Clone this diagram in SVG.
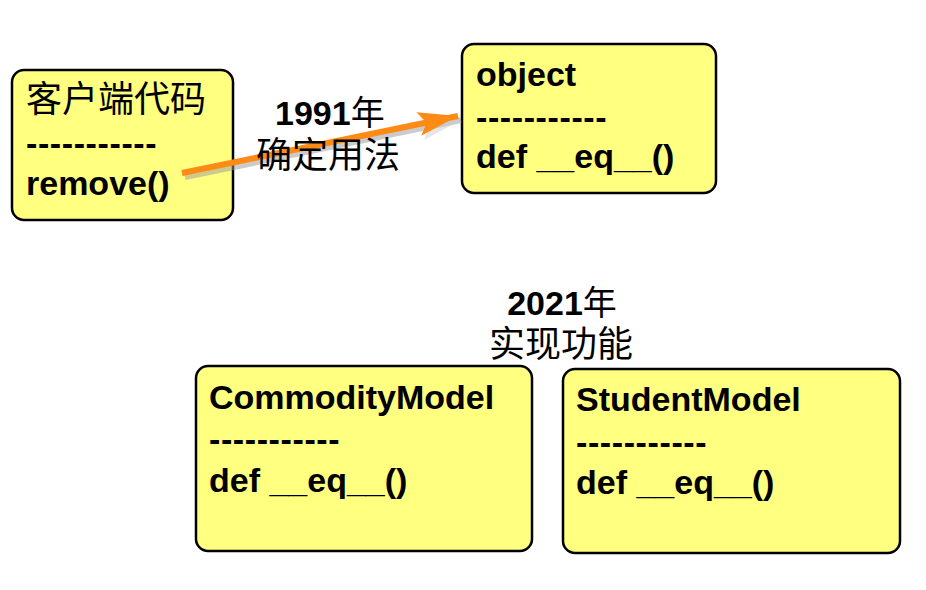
<svg xmlns="http://www.w3.org/2000/svg" width="926" height="590" viewBox="0 0 926 590">
<style>
.box{fill:#FFFF80;stroke:#000;stroke-width:2.5}
.t{font-family:"Liberation Sans","Noto Sans CJK SC",sans-serif;font-weight:bold;font-size:34px;fill:#000}
.d{font-family:"Liberation Sans",sans-serif;font-weight:bold;font-size:34px;letter-spacing:0.6px;fill:#000}
.c{font-family:"Noto Sans CJK SC","Liberation Sans",sans-serif;font-weight:normal;font-size:36px;fill:#000}
.arrow{stroke:#FF8A14;stroke-width:6;fill:none}
.shadow{stroke:#999;stroke-width:6;fill:none;opacity:0.5}
</style>
<defs>
<marker id="ah" viewBox="0 0 40 24" refX="40" refY="12" markerWidth="40" markerHeight="24" markerUnits="userSpaceOnUse" orient="auto">
<path d="M0,0 L40,12 L0,24 L8,12 Z" fill="#FF8A14"/>
</marker>
<marker id="ahs" viewBox="0 0 40 24" refX="40" refY="12" markerWidth="40" markerHeight="24" markerUnits="userSpaceOnUse" orient="auto">
<path d="M0,0 L40,12 L0,24 L8,12 Z" fill="#999" opacity="0.5"/>
</marker>
</defs>
<g id="client">
<rect class="box" x="12" y="70" width="221" height="150" rx="12"/>
<text class="c" x="26" y="112">客户端代码</text>
<text class="d" x="26" y="155">-----------</text>
<text class="t" x="26" y="195">remove()</text>
</g>
<g id="object">
<rect class="box" x="462" y="44" width="254" height="149" rx="12"/>
<text class="t" x="476" y="86">object</text>
<text class="d" x="476" y="129">-----------</text>
<text class="t" x="476" y="168">def __eq__()</text>
</g>
<g id="commodity">
<rect class="box" x="196" y="366" width="336" height="185" rx="12"/>
<text class="t" x="209" y="409">CommodityModel</text>
<text class="d" x="209" y="451">-----------</text>
<text class="t" x="209" y="492">def __eq__()</text>
</g>
<g id="student">
<rect class="box" x="563" y="369" width="337" height="184" rx="12"/>
<text class="t" x="576" y="411">StudentModel</text>
<text class="d" x="576" y="454">-----------</text>
<text class="t" x="576" y="494">def __eq__()</text>
</g>
<g id="connectors">
<line class="shadow" x1="185" y1="177" x2="461" y2="120" marker-end="url(#ahs)"/>
<line class="arrow" x1="182" y1="173" x2="458" y2="116" marker-end="url(#ah)"/>
</g>
<g id="labels">
<text class="t" x="275" y="125">1991<tspan font-family="Noto Sans CJK SC" font-weight="normal">年</tspan></text>
<text class="c" x="256" y="168">确定用法</text>
<text class="t" x="562" y="315" text-anchor="middle">2021<tspan font-family="Noto Sans CJK SC" font-weight="normal">年</tspan></text>
<text class="c" x="561" y="357" text-anchor="middle">实现功能</text>
</g>
</svg>
